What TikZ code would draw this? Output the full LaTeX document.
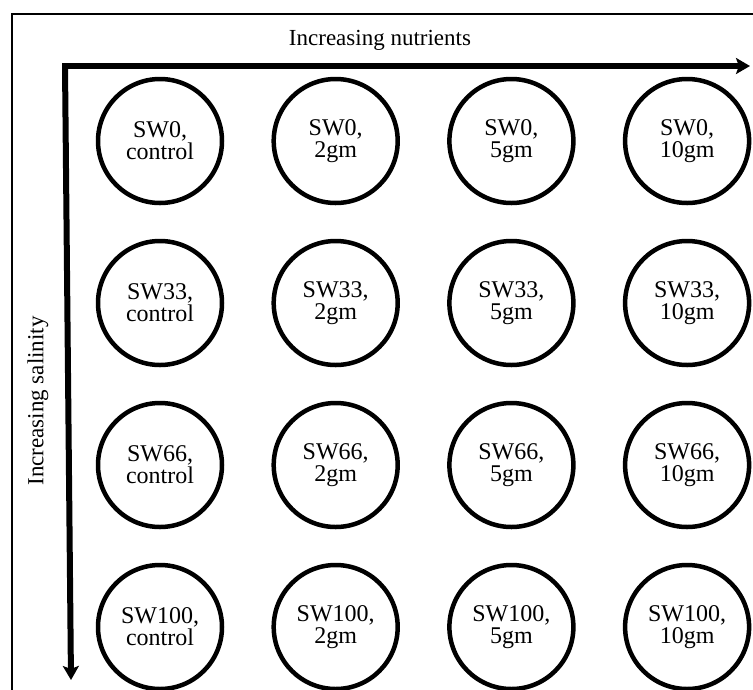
\documentclass[tikz,border=0pt]{standalone}
\usepackage{fontspec}
\setmainfont{Liberation Serif}
\usepackage{tikz}
\usetikzlibrary{arrows.meta}

\tikzset{
    pot/.style={draw, circle, line width=4.5pt, minimum size=124pt, inner sep=0pt,
        align=center, font=\fontsize{24}{22}\selectfont},
    axis/.style={line width=6pt, -{Stealth[length=14pt, width=16pt, inset=3pt]}}
}

\begin{document}
\begin{tikzpicture}[x=1pt, y=-1pt]
\useasboundingbox (0,0) rectangle (753,689);
\clip (0,0) rectangle (753,689);
% Frame
\draw[line width=2pt] (12,14) rectangle (790,730);
% Axes
\coordinate (origin) at (62,66);
\coordinate (nutend) at (750,66);
\coordinate (salend) at (71,680);
\draw[axis] (origin) -- (nutend);
\draw[axis] ([xshift=3pt]origin) -- (salend);
\node (nutlabel) at (380,40) {\fontsize{23}{23}\selectfont Increasing nutrients};
\node[rotate=90] (sallabel) at (38,401) {\fontsize{23}{23}\selectfont Increasing salinity};
% Draw pots
\foreach \sw [count=\r] in {0,33,66,100} {
    \foreach \dose [count=\c] in {control,2gm,5gm,10gm} {
        \node[pot] (pot\r\c) at ({160+175.7*(\c-1)}, {141+162*(\r-1)}) {SW\sw,\\\dose};
    }
}
\end{tikzpicture}
\end{document}
